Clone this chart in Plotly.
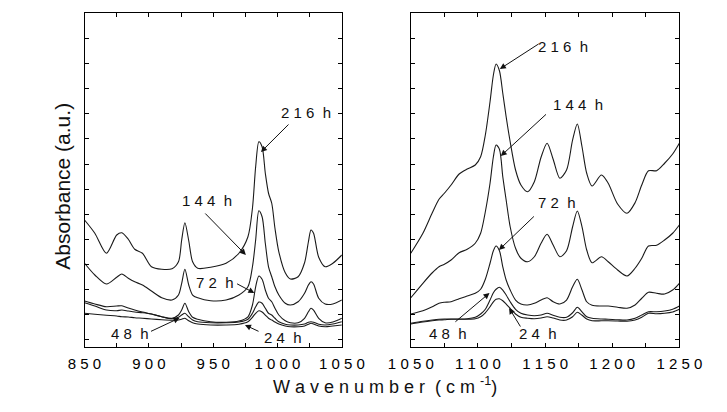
import plotly.graph_objects as go

# ---------------- data ----------------
wn_left = [850, 858, 867, 875, 879, 884, 889, 895, 902, 910, 918, 923, 925.5, 928, 931, 934, 938,
           948, 960, 970, 977, 980.5, 983, 985.5, 988, 990.5, 993, 995.5, 998, 1001, 1006, 1010,
           1016, 1021, 1024, 1026, 1028, 1032, 1037, 1043, 1050]

left_216 = [.476, .423, .343, .416, .425, .399, .359, .343, .289, .279, .281, .309, .396, .465, .393,
            .309, .283, .287, .303, .343, .409, .523, .689, .789, .769, .663, .583, .543, .443, .349,
            .265, .240, .249, .305, .389, .436, .423, .327, .289, .303, .336]
left_144 = [.303, .256, .220, .247, .260, .243, .229, .216, .192, .165, .156, .176, .223, .279, .216,
            .176, .165, .153, .156, .176, .209, .289, .396, .513, .489, .383, .289, .249, .209, .176,
            .143, .136, .149, .183, .216, .229, .220, .163, .140, .140, .156]
left_72 = [.152, .140, .129, .132, .133, .124, .116, .108, .100, .089, .083, .096, .116, .143, .109,
           .087, .079, .069, .067, .072, .089, .136, .209, .252, .239, .196, .163, .149, .123, .096,
           .073, .065, .065, .083, .109, .123, .116, .083, .065, .068, .083]
left_48 = [.145, .132, .116, .113, .116, .112, .108, .105, .100, .089, .081, .087, .096, .103, .089,
           .076, .069, .065, .065, .068, .079, .103, .129, .148, .143, .123, .103, .096, .083, .069,
           .059, .056, .056, .060, .067, .069, .067, .059, .056, .060, .069]
left_24 = [.103, .099, .095, .092, .089, .088, .085, .083, .080, .077, .075, .076, .079, .083, .073,
           .065, .060, .056, .056, .059, .069, .087, .103, .113, .108, .096, .083, .076, .068, .060,
           .052, .049, .049, .052, .059, .063, .060, .052, .049, .052, .056]

wn_right = [1050, 1059, 1066, 1071, 1075, 1080, 1086, 1092, 1098, 1102, 1105.5, 1109, 1111.5, 1113.5,
            1116, 1118.5, 1121, 1124, 1128, 1132, 1137, 1142, 1147, 1151.5, 1156, 1161, 1166, 1170.5,
            1174, 1177.5, 1181, 1185, 1192, 1197, 1204, 1211, 1217, 1222, 1227, 1233, 1239, 1245, 1250]

right_216 = [.343, .423, .505, .559, .583, .616, .660, .680, .696, .729, .816, .949, 1.056, 1.100,
             1.073, .983, .889, .789, .676, .616, .589, .629, .727, .783, .719, .643, .676, .796,
             .860, .769, .663, .612, .656, .623, .540, .503, .545, .616, .673, .673, .703, .740, .783]
right_144 = [.165, .223, .265, .289, .299, .316, .345, .359, .383, .423, .509, .623, .729, .776,
             .759, .649, .556, .449, .363, .323, .309, .329, .383, .419, .376, .329, .353, .449,
             .512, .449, .356, .305, .329, .309, .276, .252, .283, .323, .372, .375, .396, .423, .456]
right_72 = [.100, .113, .129, .143, .147, .149, .161, .172, .183, .199, .239, .303, .353, .372,
            .353, .289, .236, .196, .156, .140, .136, .143, .156, .165, .149, .140, .156, .209,
            .239, .196, .149, .135, .132, .132, .127, .123, .136, .163, .187, .183, .180, .196, .223]
right_48 = [.063, .071, .076, .079, .080, .080, .080, .081, .087, .100, .119, .156, .185, .199,
            .207, .196, .176, .149, .119, .103, .096, .093, .096, .103, .095, .087, .087, .105,
            .127, .109, .089, .083, .080, .079, .077, .076, .083, .096, .109, .109, .112, .119, .132]
right_24 = [.060, .068, .073, .076, .077, .079, .079, .079, .081, .089, .105, .129, .149, .159,
            .161, .153, .140, .123, .100, .087, .083, .081, .084, .089, .084, .076, .076, .089,
            .107, .095, .080, .073, .073, .073, .072, .071, .076, .087, .103, .101, .103, .108, .119]

left_ticks = [850, 875, 900, 925, 950, 975, 1000, 1025, 1050]
left_labels = ["8 5 0", "", "9 0 0", "", "9 5 0", "", "1 0 0 0", "", "1 0 5 0"]
right_ticks = [1050, 1075, 1100, 1125, 1150, 1175, 1200, 1225, 1250]
right_labels = ["1 0 5 0", "", "1 1 0 0", "", "1 1 5 0", "", "1 2 0 0", "", "1 2 5 0"]

# annotation labels: (text, text_x, text_y, tail_x, tail_y, head_x, head_y)
left_notes = [
    ("2 1 6  h", 1022.0, .904, 1009.7, .864, 987.1, .748),
    ("1 4 4  h", 944.9, .556, 942.7, .508, 975.4, .336),
    ("7 2  h", 951.4, .228, 967.4, .224, 982.0, .184),
    ("4 8  h", 885.2, .024, 900.5, .028, 923.8, .084),
    ("2 4  h", 1004.6, .008, 986.4, .028, 974.7, .056),
]
right_notes = [
    ("2 1 6  h", 1163.7, 1.168, 1146.3, 1.184, 1116.3, 1.080),
    ("1 4 4  h", 1174.2, .936, 1151.8, .904, 1117.0, .732),
    ("7 2  h", 1158.8, .548, 1142.8, .496, 1115.6, .356),
    ("4 8  h", 1077.9, .024, 1082.1, .064, 1108.6, .184),
    ("2 4  h", 1144.9, .024, 1132.3, .044, 1123.2, .124),
]

# ---------------- figure ----------------
FONT = "Liberation Sans, Arial, sans-serif"
LINE = "#1a1a1a"
fig = go.Figure()

for ys in [left_216, left_144, left_72, left_48, left_24]:
    fig.add_trace(go.Scatter(x=wn_left, y=ys, mode="lines", xaxis="x", yaxis="y",
                             line=dict(color=LINE, width=1.1, shape="spline", smoothing=0.8),
                             showlegend=False, hoverinfo="skip"))
for ys in [right_216, right_144, right_72, right_48, right_24]:
    fig.add_trace(go.Scatter(x=wn_right, y=ys, mode="lines", xaxis="x2", yaxis="y2",
                             line=dict(color=LINE, width=1.1, shape="spline", smoothing=0.8),
                             showlegend=False, hoverinfo="skip"))

yrange = [-0.0307, 1.3027]
common_axis = dict(showline=True, linecolor="black", linewidth=1, mirror="ticks",
                   ticks="inside", ticklen=4, tickwidth=1, tickcolor="black",
                   showgrid=False, zeroline=False,
                   tickfont=dict(family=FONT, size=15, color="black"))

fig.update_layout(
    width=727, height=412,
    margin=dict(l=0, r=0, t=0, b=0),
    paper_bgcolor="white", plot_bgcolor="white",
    xaxis=dict(domain=[65.7 / 727, 340.4 / 727], range=[850, 1050], ticklabelstandoff=3,
               tickmode="array", tickvals=left_ticks, ticktext=left_labels, **common_axis),
    yaxis=dict(domain=[1 - 346.7 / 412, 1 - 13.3 / 412], range=yrange,
               tickmode="linear", tick0=0, dtick=0.1, showticklabels=False, **common_axis),
    xaxis2=dict(domain=[414 / 727, 700.7 / 727], range=[1050, 1250], anchor="y2", ticklabelstandoff=3,
                tickmode="array", tickvals=right_ticks, ticktext=right_labels, **common_axis),
    yaxis2=dict(domain=[1 - 346.7 / 412, 1 - 13.3 / 412], range=yrange, anchor="x2",
                tickmode="linear", tick0=0, dtick=0.1, showticklabels=False, **common_axis),
)

annots = []
for notes, xr, yr in [(left_notes, "x", "y"), (right_notes, "x2", "y2")]:
    for text, tx, ty, ax, ay, hx, hy in notes:
        annots.append(dict(x=tx, y=ty, xref=xr, yref=yr, text=text, showarrow=False,
                           font=dict(family=FONT, size=15, color="#111")))
        annots.append(dict(x=hx, y=hy, xref=xr, yref=yr, ax=ax, ay=ay, axref=xr, ayref=yr,
                           text="", showarrow=True, arrowhead=2, arrowsize=1.2,
                           arrowwidth=1, arrowcolor="#111"))

annots.append(dict(x=386 / 727, y=1 - 399 / 412, xref="paper", yref="paper",
                   text="W a v e n u m b e r  ( c m <sup>-1</sup>)", showarrow=False,
                   font=dict(family=FONT, size=18, color="#111")))
annots.append(dict(x=27 / 727, y=1 - 186 / 412, xref="paper", yref="paper",
                   text="Absorbance (a.u.)", textangle=-90, showarrow=False,
                   font=dict(family=FONT, size=21, color="#111")))
fig.update_layout(annotations=annots)

fig.write_html("out.html")
